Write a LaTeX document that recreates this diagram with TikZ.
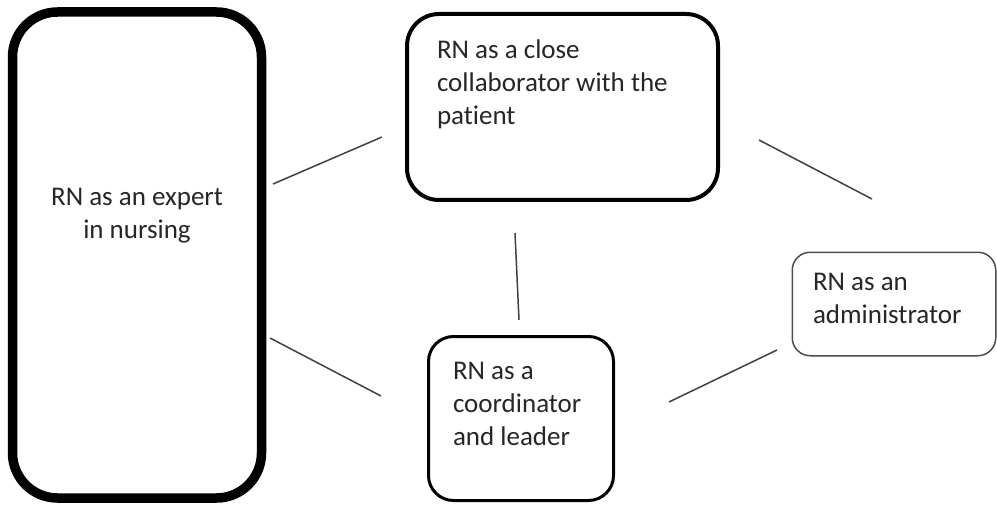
\documentclass[tikz,border=0pt]{standalone}
\usepackage{fontspec}
\setmainfont{Carlito}[Ligatures={NoCommon,NoRare,NoContextual}]
\begin{document}
\begin{tikzpicture}[x=1pt,y=-1pt,
  boxbase/.style={draw=black, rectangle, inner sep=0pt, outer sep=0pt},
  lbl/.style={inner sep=0pt, outer sep=0pt, align=left, text=black!85,
    font=\fontsize{27}{33}\selectfont},
  conn/.style={draw=black!75, line width=1.5pt}]
\useasboundingbox (0,0) rectangle (997,508);
\node[boxbase, line width=9.5pt, rounded corners=45pt, minimum width=249pt, minimum height=486pt] (expert) at (137,255) {};
\node[boxbase, line width=4pt, rounded corners=32pt, minimum width=311pt, minimum height=186pt] (collab) at (562.5,107) {};
\node[boxbase, line width=3pt, rounded corners=25pt, minimum width=185pt, minimum height=164pt] (coord) at (521,418.5) {};
\node[boxbase, draw=black!70, line width=1.5pt, rounded corners=18pt, minimum width=203.5pt, minimum height=103.5pt] (admin) at (894,304) {};

\node[lbl, align=center, anchor=north] (texpert) at (137,188) {RN as an expert\\in nursing};
\node[lbl, anchor=north west] (tcollab) at (437,40) {RN as a close\\collaborator with the\\patient};
\node[lbl, anchor=north west] (tcoord) at (453,362) {RN as a\\coordinator\\and leader};
\node[lbl, anchor=north west] (tadmin) at (813,273) {RN as an\\administrator};

\coordinate (a1) at (273,184); \coordinate (a2) at (382,137);
\coordinate (b1) at (270,338); \coordinate (b2) at (381,396);
\coordinate (c1) at (515,233); \coordinate (c2) at (519,320);
\coordinate (d1) at (759,140); \coordinate (d2) at (872,199);
\coordinate (e1) at (669,402); \coordinate (e2) at (777,350);
\draw[conn] (a1) -- (a2);
\draw[conn] (b1) -- (b2);
\draw[conn] (c1) -- (c2);
\draw[conn] (d1) -- (d2);
\draw[conn] (e1) -- (e2);
\end{tikzpicture}
\end{document}
